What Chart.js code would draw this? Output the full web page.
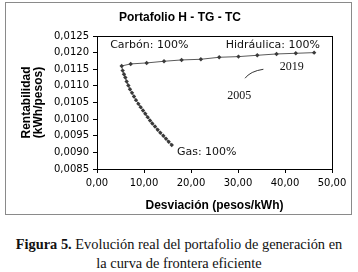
<!DOCTYPE html>
<html>
<head>
<meta charset="utf-8">
<script src="https://cdn.jsdelivr.net/npm/chart.js@4"></script>
<style>
  body { margin: 0; background: #fff; width: 358px; height: 272px; overflow: hidden; }
  #frame { position: absolute; left: 5px; top: 2px; width: 345px; height: 211px; border: 1px solid #8a8a8a; }
  #caption { position: absolute; left: 0; top: 235px; width: 358px; text-align: center;
    font-family: "Liberation Serif", serif; font-size: 14.4px; line-height: 19px; color: #111; }
</style>
</head>
<body>
<div id="frame"><canvas id="chart"></canvas></div>
<div id="caption"><b>Figura 5.</b> Evolución real del portafolio de generación en<br>la curva de frontera eficiente</div>
<script>
// frontier, from Gas 100% up to Carbón 100% then across to Hidráulica 100%
const desviacion = [15.9, 15.25, 14.68, 14.11, 13.48, 12.91, 12.34, 11.77, 11.28, 10.78,
  10.28, 9.79, 9.29, 8.8, 8.3, 7.87, 7.45, 7.02, 6.67, 6.31, 6.03, 5.74, 5.46, 5.25,
  7.17, 10.57, 14.26, 18.0, 22.1, 26.0, 30.1, 34.1, 38.2, 42.3, 46.2];
const rentabilidad = [0.00922, 0.00932, 0.00941, 0.0095, 0.00959, 0.00968, 0.00978, 0.00987,
  0.00996, 0.01006, 0.01016, 0.01026, 0.01036, 0.01046, 0.01057, 0.01068, 0.01079, 0.0109,
  0.01101, 0.01113, 0.01125, 0.01135, 0.01146, 0.0116,
  0.01166, 0.01169, 0.01174, 0.01178, 0.0118, 0.01186, 0.01188, 0.01192, 0.01196, 0.01198, 0.012];
const xTicks = ["0,00", "10,00", "20,00", "30,00", "40,00", "50,00"];
const yTicks = ["0,0085", "0,0090", "0,0095", "0,0100", "0,0105", "0,0110", "0,0115", "0,0120", "0,0125"];

const labels = [
  { text: "Carbón: 100%", x: 2.8, y: 0.01223, font: '11px "DejaVu Sans"' },
  { text: "Hidráulica: 100%", x: 27.4, y: 0.01223, font: '11px "DejaVu Sans"' },
  { text: "Gas: 100%", x: 17.0, y: 0.00901, font: '11px "DejaVu Sans"' },
  { text: "2019", x: 38.9, y: 0.01157, font: '12px "Liberation Serif"' },
  { text: "2005", x: 27.7, y: 0.0107, font: '12px "Liberation Serif"' },
];

const extras = {
  id: "extras",
  afterDraw(chart) {
    const { ctx, chartArea: a, scales: { x, y } } = chart;
    ctx.save();
    ctx.strokeStyle = "#000";
    ctx.lineWidth = 1;
    ctx.strokeRect(a.left + 0.5, a.top + 0.5, a.right - a.left, a.bottom - a.top);
    ctx.fillStyle = "#000";
    ctx.font = 'bold 12px "Liberation Sans"';
    ctx.textAlign = "center";
    ctx.textBaseline = "middle";
    ctx.fillText("Portafolio H - TG - TC", 174, 15);
    ctx.textAlign = "left";
    ctx.fillStyle = "#111";
    labels.forEach(l => {
      ctx.font = l.font;
      ctx.fillText(l.text, x.getPixelForValue(l.x), y.getPixelForValue(l.y));
    });
    // little stroke between the year labels
    ctx.strokeStyle = "#333";
    ctx.beginPath();
    ctx.moveTo(x.getPixelForValue(31.5), y.getPixelForValue(0.01123));
    ctx.quadraticCurveTo(x.getPixelForValue(32.6), y.getPixelForValue(0.01144),
      x.getPixelForValue(35.4), y.getPixelForValue(0.0115));
    ctx.stroke();
    ctx.restore();
  },
};

new Chart(document.getElementById("chart"), {
  type: "scatter",
  data: {
    datasets: [{
      data: desviacion.map((d, i) => ({ x: d, y: rentabilidad[i] })),
      showLine: true,
      borderColor: "#5a5a5a",
      borderWidth: 1,
      pointStyle: "rectRot",
      pointRadius: 2.2,
      pointBackgroundColor: "#3a3a3a",
      pointBorderColor: "#3a3a3a",
      pointBorderWidth: 0,
    }],
  },
  plugins: [extras],
  options: {
    responsive: true,
    maintainAspectRatio: false,
    animation: false,
    layout: { padding: { top: 33, right: 19, left: 0, bottom: 0 }, autoPadding: false },
    plugins: { legend: { display: false }, tooltip: { enabled: false } },
    scales: {
      x: {
        min: 0, max: 50,
        afterFit: s => { s.height = 45; },
        ticks: {
          stepSize: 10, padding: 4, color: "#000",
          font: { family: "DejaVu Sans", size: 10 },
          callback: (v, i) => xTicks[i],
        },
        grid: { drawOnChartArea: false, tickLength: 4, color: "#000" },
        border: { color: "#000" },
        title: {
          display: true, text: "Desviación (pesos/kWh)", color: "#000",
          font: { family: "Liberation Sans", size: 12, weight: "bold", lineHeight: 1.05 },
          padding: { top: 0, bottom: 2 },
        },
      },
      y: {
        min: 0.0085, max: 0.0125,
        afterFit: s => { s.width = 91; },
        ticks: {
          stepSize: 0.0005, padding: 4, color: "#000",
          font: { family: "DejaVu Sans", size: 10 },
          callback: (v, i) => yTicks[i],
        },
        grid: { drawOnChartArea: false, tickLength: 4, color: "#000" },
        border: { color: "#000" },
        title: {
          display: true, text: ["Rentabilidad", "(kWh/pesos)"], color: "#000",
          font: { family: "Liberation Sans", size: 12, weight: "bold", lineHeight: 1.05 },
          padding: { top: 14, bottom: 0 },
        },
      },
    },
  },
});
</script>
</body>
</html>
